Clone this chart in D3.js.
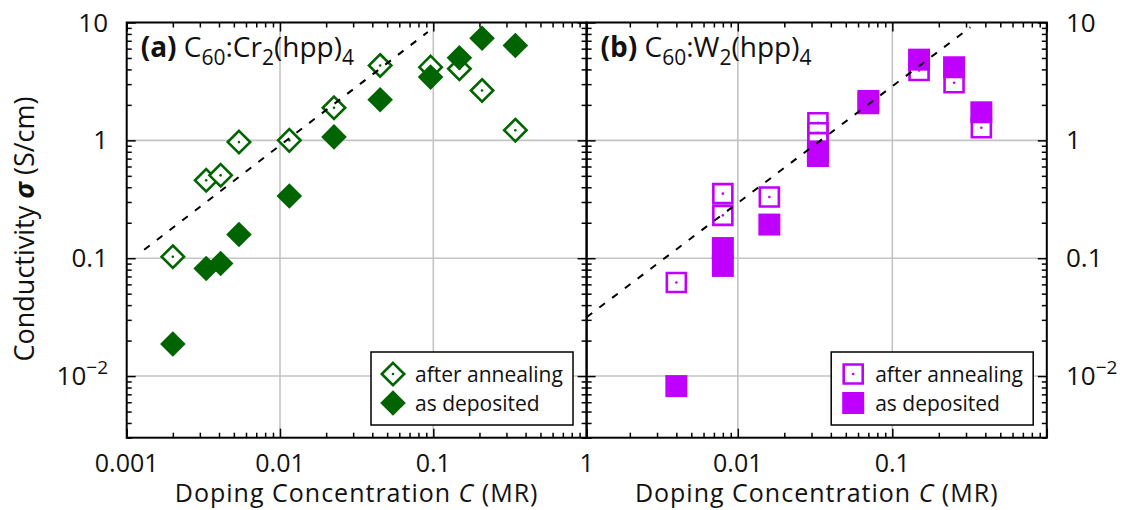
<!DOCTYPE html>
<html>
<head>
<meta charset="utf-8">
<script src="https://cdn.jsdelivr.net/npm/d3@7"></script>
<style>
  body { margin: 0; background: #fff; }
  svg { display: block; font-family: "Open Sans", "Lato", "DejaVu Sans", sans-serif; }
</style>
</head>
<body>
<svg id="chart" width="1132" height="510"></svg>
<script>
// ---- Panel (a): C60:Cr2(hpp)4 ----
const concA = [0.002, 0.0033, 0.0041, 0.0054, 0.0115, 0.0225, 0.045, 0.096, 0.148, 0.208, 0.343];
const annealedA = [0.103, 0.458, 0.505, 0.967, 1.0, 1.89, 4.32, 4.18, 4.05, 2.65, 1.22];
const depositedA = [0.0187, 0.0818, 0.0902, 0.159, 0.337, 1.07, 2.21, 3.44, 5.02, 7.36, 6.38];
const fitConcA = [0.0013, 0.092];
const fitSigmaA = [0.118, 8.3];

// ---- Panel (b): C60:W2(hpp)4 ----
const annealedConcB = [0.004, 0.008, 0.008, 0.016, 0.033, 0.033, 0.033, 0.070, 0.149, 0.251, 0.377];
const annealedB = [0.0622, 0.231, 0.353, 0.331, 1.41, 1.16, 0.956, 2.06, 3.92, 3.08, 1.28];
const depositedConcB = [0.004, 0.008, 0.008, 0.016, 0.033, 0.033, 0.070, 0.149, 0.251, 0.377];
const depositedB = [0.00822, 0.122, 0.086, 0.193, 0.807, 0.736, 2.16, 4.84, 4.17, 1.73];
const fitConcB = [0.00105, 0.32];
const fitSigmaB = [0.0316, 9.1];

// ---- Axes ----
const concDomainA = [0.001, 1];
const concDomainB = [0.00105, 1];
const sigmaDomain = [0.003, 10];
const xTickValuesA = [0.001, 0.01, 0.1, 1];
const xTickLabelsA = ["0.001", "0.01", "0.1", "1"];
const xTickValuesB = [0.01, 0.1];
const xTickLabelsB = ["0.01", "0.1"];
const yTickValues = [10, 1, 0.1, 0.01];
const yTickLabels = ["10", "1", "0.1", "10"];
const yTickSups = ["", "", "", "\u22122"];
const legendLabels = ["after annealing", "as deposited"];

const GREEN = "#006400";
const PURPLE = "#c000ff";

const svg = d3.select("#chart");
const plotTop = 22.5, plotBottom = 437.7;
const y = d3.scaleLog().domain(sigmaDomain).range([plotBottom, plotTop]);

function logTicks(domain, multipliers) {
  const out = [];
  const e0 = Math.floor(Math.log10(domain[0])), e1 = Math.ceil(Math.log10(domain[1]));
  for (let e = e0; e <= e1; e++) {
    for (const m of multipliers) {
      const v = m * Math.pow(10, e);
      if (v >= domain[0] * 0.9999 && v <= domain[1] * 1.0001) out.push(v);
    }
  }
  return out;
}

const diamond = r => `M0,${-r}L${r},0L0,${r}L${-r},0Z`;
const square = s => `M${-s / 2},${-s / 2}h${s}v${s}h${-s}Z`;

function drawPanel(p) {
  const x = d3.scaleLog().domain(p.domain).range([p.left, p.right]);
  const g = svg.append("g");

  // grid at inner decades
  const gridX = logTicks(p.domain, [1]).filter(v => x(v) > p.left + 2 && x(v) < p.right - 2);
  const gridY = logTicks(sigmaDomain, [1]).filter(v => y(v) > plotTop + 2 && y(v) < plotBottom - 2);
  g.selectAll(".gx").data(gridX).join("line")
    .attr("x1", d => x(d)).attr("x2", d => x(d))
    .attr("y1", plotTop).attr("y2", plotBottom)
    .attr("stroke", "#c4c4c4").attr("stroke-width", 1.6);
  g.selectAll(".gy").data(gridY).join("line")
    .attr("x1", p.left).attr("x2", p.right)
    .attr("y1", d => y(d)).attr("y2", d => y(d))
    .attr("stroke", "#c4c4c4").attr("stroke-width", 1.6);

  // after annealing (open markers with a centre dot)
  const openPts = p.openConc.map((c, i) => [c, p.openVals[i]]);
  const open = g.selectAll(".open").data(openPts).join("g")
    .attr("transform", d => `translate(${x(d[0])},${y(d[1])})`);
  open.append("path").attr("d", p.openShape)
    .attr("fill", "#fff").attr("stroke", p.color).attr("stroke-width", 2.6);
  open.append("circle").attr("r", 1.3).attr("fill", p.color);

  // as deposited (filled markers)
  const fillPts = p.fillConc.map((c, i) => [c, p.fillVals[i]]);
  g.selectAll(".fill").data(fillPts).join("path")
    .attr("transform", d => `translate(${x(d[0])},${y(d[1])})`)
    .attr("d", p.fillShape).attr("fill", p.color);

  // linear guide line
  const fit = p.fitConc.map((c, i) => [c, p.fitVals[i]]);
  g.append("path").datum(fit)
    .attr("d", d3.line().x(d => x(d[0])).y(d => y(d[1])))
    .attr("fill", "none").attr("stroke", "#000").attr("stroke-width", 2)
    .attr("stroke-dasharray", "7,9");

  // ticks on all four sides, pointing inward
  const majX = logTicks(p.domain, [1]);
  const minX = logTicks(p.domain, [2, 3, 4, 5, 6, 7, 8, 9]);
  const majY = logTicks(sigmaDomain, [1]);
  const minY = logTicks(sigmaDomain, [2, 3, 4, 5, 6, 7, 8, 9]);
  const axes = [
    [d3.axisBottom(x), `translate(0,${plotBottom})`, majX, minX],
    [d3.axisTop(x), `translate(0,${plotTop})`, majX, minX],
    [d3.axisLeft(y), `translate(${p.left},0)`, majY, minY],
    [d3.axisRight(y), `translate(${p.right},0)`, majY, minY]
  ];
  axes.forEach(([ax, tr, maj, min]) => {
    [[maj, -9], [min, -5]].forEach(([vals, size]) => {
      const a = g.append("g").attr("transform", tr)
        .call(ax.tickValues(vals).tickSize(size).tickFormat(""));
      a.select(".domain").remove();
      a.selectAll("line").attr("stroke", "#000").attr("stroke-width", 1.5);
    });
  });

  // frame
  g.append("rect").attr("x", p.left).attr("y", plotTop)
    .attr("width", p.right - p.left).attr("height", plotBottom - plotTop)
    .attr("fill", "none").attr("stroke", "#000").attr("stroke-width", 2);

  // x tick labels
  g.selectAll(".xl").data(p.xTicks).join("text")
    .attr("x", d => x(d)).attr("y", 472)
    .attr("text-anchor", "middle").attr("font-size", 25).attr("fill", "#111")
    .text((d, i) => p.xLabels[i]);

  // y tick labels
  const yl = g.selectAll(".yl").data(yTickValues).join("text")
    .attr("x", p.yLabelX).attr("y", d => y(d) + 9)
    .attr("text-anchor", p.yAnchor).attr("font-size", 26).attr("fill", "#111");
  yl.append("tspan").text((d, i) => yTickLabels[i]);
  yl.append("tspan").attr("font-size", 19).attr("dy", -11).text((d, i) => yTickSups[i]);

  // x axis title
  const xt = g.append("text").attr("x", (p.left + p.right) / 2).attr("y", 502)
    .attr("text-anchor", "middle").attr("font-size", 25).attr("letter-spacing", 1)
    .attr("fill", "#111");
  xt.append("tspan").text("Doping Concentration ");
  xt.append("tspan").attr("font-style", "italic").text("C");
  xt.append("tspan").text(" (MR)");

  // panel title with subscripts
  const t = g.append("text").attr("x", p.left + 14).attr("y", 57)
    .attr("font-size", 28).attr("fill", "#111");
  p.title.forEach(([txt, kind]) => {
    const s = t.append("tspan").text(txt);
    if (kind === "b") s.attr("font-weight", "bold");
    if (kind === "sub") s.attr("font-size", 21).attr("dy", 8);
    if (kind === "after") s.attr("dy", -8);
  });

  // legend
  const lx = p.right - 13.6 - 202, ly = 352;
  g.append("rect").attr("x", lx).attr("y", ly).attr("width", 202).attr("height", 73)
    .attr("fill", "#fff").attr("stroke", "#000").attr("stroke-width", 1.5);
  const lo = g.append("g").attr("transform", `translate(${lx + 22},${ly + 22})`);
  lo.append("path").attr("d", p.openShape).attr("fill", "#fff")
    .attr("stroke", p.color).attr("stroke-width", 2.6);
  lo.append("circle").attr("r", 1.3).attr("fill", p.color);
  g.append("path").attr("transform", `translate(${lx + 22},${ly + 51})`)
    .attr("d", p.fillShape).attr("fill", p.color);
  g.selectAll(".lt").data(legendLabels).join("text")
    .attr("x", lx + 44).attr("y", (d, i) => ly + 30 + i * 28.5)
    .attr("font-size", 21).attr("fill", "#111").text(d => d);
}

drawPanel({
  left: 126.7, right: 586.6, domain: concDomainA, color: GREEN,
  openConc: concA, openVals: annealedA, fillConc: concA, fillVals: depositedA,
  fitConc: fitConcA, fitVals: fitSigmaA,
  openShape: diamond(11.2), fillShape: diamond(12.8),
  xTicks: xTickValuesA, xLabels: xTickLabelsA,
  yLabelX: 108, yAnchor: "end",
  title: [["(a)", "b"], [" C", ""], ["60", "sub"], [":Cr", "after"], ["2", "sub"], ["(hpp)", "after"], ["4", "sub"]]
});

drawPanel({
  left: 586.6, right: 1046.8, domain: concDomainB, color: PURPLE,
  openConc: annealedConcB, openVals: annealedB, fillConc: depositedConcB, fillVals: depositedB,
  fitConc: fitConcB, fitVals: fitSigmaB,
  openShape: square(19), fillShape: square(22),
  xTicks: xTickValuesB, xLabels: xTickLabelsB,
  yLabelX: 1066, yAnchor: "start",
  title: [["(b)", "b"], [" C", ""], ["60", "sub"], [":W", "after"], ["2", "sub"], ["(hpp)", "after"], ["4", "sub"]]
});

// shared y axis title
const yt = svg.append("text").attr("transform", "translate(34,229) rotate(-90)")
  .attr("text-anchor", "middle").attr("font-size", 27).attr("fill", "#111");
yt.append("tspan").text("Conductivity ");
yt.append("tspan").attr("font-style", "italic").attr("font-weight", "bold").text("\u03c3");
yt.append("tspan").text(" (S/cm)");
</script>
</body>
</html>
